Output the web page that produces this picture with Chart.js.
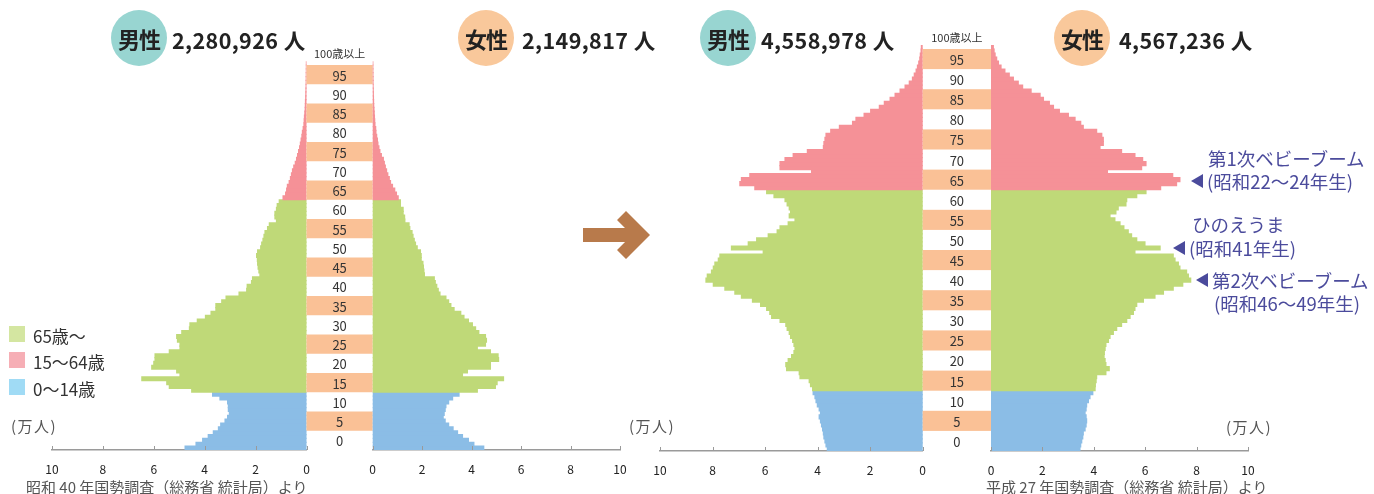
<!DOCTYPE html>
<html lang="ja">
<head>
<meta charset="utf-8">
<script src="https://cdn.jsdelivr.net/npm/chart.js@4.4.1/dist/chart.umd.min.js"></script>
<style>
  html, body { margin: 0; padding: 0; background: #fff; }
  #stage { position: relative; width: 1374px; height: 494px; overflow: hidden;
           font-family: "Noto Sans CJK JP", "Noto Sans", sans-serif; color: #333; }
  #stage canvas { position: absolute; left: 0; top: 0; }
  .t { position: absolute; white-space: nowrap; line-height: 1; transform: translateY(-50%); }
  .circ { position: absolute; width: 56px; height: 56px; border-radius: 50%;
          display: flex; align-items: center; justify-content: center;
          font-weight: 700; font-size: 22px; color: #222; letter-spacing: -1px; }
  .male { background: #98d5d1; }
  .female { background: #f9c89b; }
  .total { font-size: 21.5px; font-weight: 700; color: #222; letter-spacing: 0.4px; }
  .sw { position: absolute; width: 16px; height: 16px; }
  .leg { font-size: 17px; color: #333; }
  .unit { font-size: 15px; color: #555; letter-spacing: 1.5px; }
  .src { font-size: 15px; color: #555; }
  .note { font-size: 18.5px; color: #4b4b9c; }
  .tri { position: absolute; width: 0; height: 0; border-top: 7px solid transparent;
         border-bottom: 7px solid transparent; border-right: 12px solid #4b4b9c; transform: translateY(-50%); }
</style>
</head>
<body>
<div id="stage">
  <canvas id="m1965" width="1374" height="494"></canvas>
  <canvas id="f1965" width="1374" height="494"></canvas>
  <canvas id="m2015" width="1374" height="494"></canvas>
  <canvas id="f2015" width="1374" height="494"></canvas>

  <!-- headers -->
  <div class="circ male" style="left:111px;top:10px;">男性</div>
  <div class="t total" style="left:172px;top:40px;">2,280,926 人</div>
  <div class="circ female" style="left:458px;top:10px;">女性</div>
  <div class="t total" style="left:522px;top:40px;">2,149,817 人</div>
  <div class="circ male" style="left:700px;top:10px;">男性</div>
  <div class="t total" style="left:761px;top:40px;">4,558,978 人</div>
  <div class="circ female" style="left:1054px;top:10px;">女性</div>
  <div class="t total" style="left:1119px;top:40px;">4,567,236 人</div>

  <!-- arrow between the two pyramids -->
  <svg style="position:absolute;left:0;top:0;" width="1374" height="494">
    <rect x="583" y="228" width="50" height="14" fill="#b87a4b"/>
    <polygon points="617,220 626,211 650,235 626,259 617,250 632,235" fill="#b87a4b"/>
  </svg>

  <!-- legend -->
  <div class="sw" style="left:9px;top:326px;background:#d4e6a1;"></div>
  <div class="t leg" style="left:33px;top:335px;">65歳〜</div>
  <div class="sw" style="left:9px;top:352px;background:#f6aeb5;"></div>
  <div class="t leg" style="left:33px;top:361px;">15〜64歳</div>
  <div class="sw" style="left:9px;top:379px;background:#a0dbf5;"></div>
  <div class="t leg" style="left:33px;top:388px;">0〜14歳</div>

  <!-- units -->
  <div class="t unit" style="left:11px;top:425px;">(万人)</div>
  <div class="t unit" style="left:629px;top:425px;">(万人)</div>
  <div class="t unit" style="left:1226px;top:426px;">(万人)</div>

  <!-- sources -->
  <div class="t src" style="left:26px;top:486px;">昭和 40 年国勢調査（総務省 統計局）より</div>
  <div class="t src" style="left:986px;top:486px;">平成 27 年国勢調査（総務省 統計局）より</div>

  <!-- annotations -->
  <div class="t note" style="left:1208px;top:158px;">第1次ベビーブーム</div>
  <div class="tri" style="left:1191px;top:181px;"></div>
  <div class="t note" style="left:1207px;top:181px;">(昭和22〜24年生)</div>
  <div class="t note" style="left:1192px;top:224px;">ひのえうま</div>
  <div class="tri" style="left:1173px;top:248px;"></div>
  <div class="t note" style="left:1189px;top:248px;">(昭和41年生)</div>
  <div class="tri" style="left:1196px;top:280px;"></div>
  <div class="t note" style="left:1212px;top:280px;">第2次ベビーブーム</div>
  <div class="t note" style="left:1214px;top:303px;">(昭和46〜49年生)</div>
</div>

<script>
// Age categories: 0 .. 100 (100 = 100歳以上)
const AGES = [0,1,2,3,4,5,6,7,8,9,10,11,12,13,14,15,16,17,18,19,20,21,22,23,24,25,26,27,28,29,
  30,31,32,33,34,35,36,37,38,39,40,41,42,43,44,45,46,47,48,49,50,51,52,53,54,55,56,57,58,59,
  60,61,62,63,64,65,66,67,68,69,70,71,72,73,74,75,76,77,78,79,80,81,82,83,84,85,86,87,88,89,
  90,91,92,93,94,95,96,97,98,99,100];

// Labels of the centre age column (one per five-year band) and its top caption
const BAND_LABELS = ['0','5','10','15','20','25','30','35','40','45','50','55','60','65','70','75','80','85','90','95'];
const TOP_LABEL = '100歳以上';

// X-axis ticks (万人)
const X_TICKS = [0, 2, 4, 6, 8, 10];

// 昭和40年 population by single year of age (万人), index = age
const MALE_1965 = [4.77,4.34,4.08,3.86,3.66,3.46,3.37,3.2,3.1,3.03,3.07,3.07,3.1,3.4,3.69,
  4.51,5.39,5.49,6.47,4.97,5.1,6.08,6.0,5.95,5.95,5.39,4.97,4.97,5.07,5.1,
  4.9,4.6,4.58,4.29,3.97,3.75,3.56,3.56,3.33,3.16,2.65,2.35,2.33,2.16,2.12,
  1.83,1.87,1.9,1.92,1.93,1.96,1.92,1.8,1.76,1.71,1.67,1.63,1.53,1.46,1.18,
  1.24,1.24,1.18,1.15,1.07,0.92,0.82,0.78,0.75,0.68,0.63,0.59,0.55,0.5,0.44,
  0.39,0.35,0.31,0.27,0.24,0.21,0.18,0.16,0.13,0.1,0.09,0.08,0.065,0.05,0.045,
  0.04,0.03,0.025,0.02,0.015,0.012,0.01,0.008,0.006,0.005,0.004];
const FEMALE_1965 = [4.49,4.09,3.87,3.63,3.43,3.25,3.07,2.93,2.85,2.89,2.93,2.96,3.07,3.23,3.49,
  4.23,4.96,5.03,5.29,3.63,3.83,4.76,4.76,5.09,5.07,4.76,4.23,4.56,4.6,4.56,
  4.29,4.16,4.03,3.87,3.69,3.56,3.29,3.16,3.07,2.96,2.72,2.65,2.59,2.53,2.49,
  2.09,2.07,2.05,2.03,1.96,1.96,1.93,1.8,1.73,1.68,1.63,1.59,1.5,1.47,1.3,
  1.29,1.23,1.23,1.12,1.12,1.03,0.96,0.89,0.8,0.72,0.67,0.61,0.56,0.51,0.47,
  0.43,0.35,0.29,0.25,0.21,0.19,0.16,0.13,0.12,0.09,0.08,0.07,0.06,0.05,0.04,
  0.035,0.03,0.025,0.02,0.015,0.012,0.01,0.008,0.006,0.005,0.004];

// 平成27年 population by single year of age (万人), index = age
const MALE_2015 = [3.63,3.68,3.72,3.76,3.78,3.81,3.85,3.89,3.94,3.89,3.94,4.01,4.06,4.1,4.17,
  4.19,4.27,4.32,4.67,4.7,5.18,5.21,5.12,4.99,4.9,4.86,4.9,4.95,5.03,5.08,
  5.16,5.21,5.43,5.75,5.82,5.94,6.17,6.48,6.9,7.15,7.53,7.97,8.25,8.2,8.04,
  7.97,7.91,7.78,7.72,6.07,7.28,6.64,6.32,5.88,5.54,5.43,5.12,4.86,5.08,5.03,
  5.08,5.16,5.24,5.66,5.94,6.39,6.96,6.9,6.58,4.23,5.43,5.43,5.24,4.93,4.39,
  3.78,3.76,3.72,3.68,3.5,3.17,2.67,2.54,2.23,1.98,1.65,1.46,1.24,1.05,0.86,
  0.67,0.51,0.39,0.32,0.25,0.2,0.15,0.11,0.09,0.06,0.05];
const FEMALE_2015 = [3.46,3.49,3.53,3.57,3.59,3.66,3.7,3.72,3.7,3.66,3.7,3.72,3.79,3.85,3.96,
  4.05,4.06,4.09,4.11,4.47,4.6,4.47,4.44,4.4,4.41,4.44,4.47,4.57,4.63,4.76,
  4.89,5.08,5.28,5.41,5.54,5.6,5.67,5.93,6.38,6.71,7.09,7.46,7.77,7.68,7.61,
  7.35,7.29,7.16,7.09,5.6,6.58,5.99,5.67,5.47,5.34,5.17,5.02,4.82,4.63,4.86,
  4.95,5.25,5.28,5.67,6.03,6.6,7.22,7.35,7.07,4.53,5.86,6.03,5.9,5.6,5.08,
  4.24,4.37,4.37,4.31,4.11,3.59,3.49,3.27,3.01,2.66,2.43,2.27,2.04,1.91,1.56,
  1.23,1.06,0.87,0.71,0.54,0.39,0.29,0.22,0.16,0.12,0.09];

const W = 1374, H = 494, AXIS_H = 26;
const FONT = '"Noto Sans CJK JP", "Noto Sans", sans-serif';
const C_CHILD = '#8bbde6', C_WORK = '#bfd978', C_OLD = '#f59197', C_BAND = '#fac196';

function barColor(ctx) {
  const age = AGES[ctx.dataIndex];
  return age < 15 ? C_CHILD : (age < 65 ? C_WORK : C_OLD);
}

// Upward tick marks on the value axis
const innerTicks = {
  id: 'innerTicks',
  afterDraw(chart) {
    const x = chart.scales.x, c = chart.ctx;
    c.save();
    c.strokeStyle = '#9a9a9a';
    c.lineWidth = 1;
    x.ticks.forEach(t => {
      const px = Math.round(x.getPixelForValue(t.value)) + 0.5;
      c.beginPath();
      c.moveTo(px, x.top);
      c.lineTo(px, x.top - 4);
      c.stroke();
    });
    c.restore();
  }
};

// Centre age column drawn to the left of the female plot area
const ageColumn = {
  id: 'ageColumn',
  beforeDatasetsDraw(chart, args, o) {
    if (!o || !o.width) return;
    const y = chart.scales.y, c = chart.ctx;
    const right = chart.chartArea.left, left = right - o.width, mid = (left + right) / 2;
    const h = (y.bottom - y.top) / AGES.length;
    c.save();
    c.textAlign = 'center';
    c.textBaseline = 'middle';
    BAND_LABELS.forEach((lab, i) => {
      const start = i * 5;
      const yb = y.getPixelForValue(start) + h / 2;
      const yt = y.getPixelForValue(start + 4) - h / 2;
      if (i % 2 === 1) {
        c.fillStyle = C_BAND;
        c.fillRect(left, yt, right - left, yb - yt);
      }
      c.fillStyle = '#333';
      c.font = '13px ' + FONT;
      c.fillText(lab, mid, (yt + yb) / 2 + 1);
    });
    c.font = '11px ' + FONT;
    c.fillStyle = '#333';
    c.fillText(TOP_LABEL, mid, y.top - 7);
    c.restore();
  }
};

function pyramid(id, values, isMale, area, columnWidth) {
  new Chart(document.getElementById(id), {
    type: 'bar',
    data: {
      labels: AGES,
      datasets: [{
        data: values,
        backgroundColor: barColor,
        borderWidth: 0,
        inflateAmount: 0.6,
        barPercentage: 1,
        categoryPercentage: 1
      }]
    },
    options: {
      indexAxis: 'y',
      responsive: false,
      animation: false,
      devicePixelRatio: 1,
      layout: {
        padding: { left: area.left, right: W - area.right, top: area.top, bottom: H - area.bottom - AXIS_H }
      },
      scales: {
        y: { type: 'category', reverse: true, display: false, offset: true },
        x: {
          type: 'linear', min: 0, max: 10, reverse: isMale, position: 'bottom',
          afterBuildTicks(scale) { scale.ticks = X_TICKS.map(v => ({ value: v })); },
          afterFit(scale) { scale.height = AXIS_H; },
          grid: { display: false, drawTicks: false },
          border: { display: true, color: '#9a9a9a', width: 1.5 },
          ticks: { color: '#222', padding: 12, font: { family: FONT, size: 12 } }
        }
      },
      plugins: {
        legend: { display: false },
        tooltip: { enabled: false },
        ageColumn: { width: columnWidth }
      }
    },
    plugins: [innerTicks, ageColumn]
  });
}

pyramid('m1965', MALE_1965,   true,  { left: 52,    right: 306.5, top: 61.15, bottom: 450 }, 0);
pyramid('f1965', FEMALE_1965, false, { left: 372.7, right: 620,   top: 61.15, bottom: 450 }, 66.2);
pyramid('m2015', MALE_2015,   true,  { left: 660,   right: 922.7, top: 45,    bottom: 451 }, 0);
pyramid('f2015', FEMALE_2015, false, { left: 991,   right: 1248,  top: 45,    bottom: 451 }, 68.3);
</script>
</body>
</html>
